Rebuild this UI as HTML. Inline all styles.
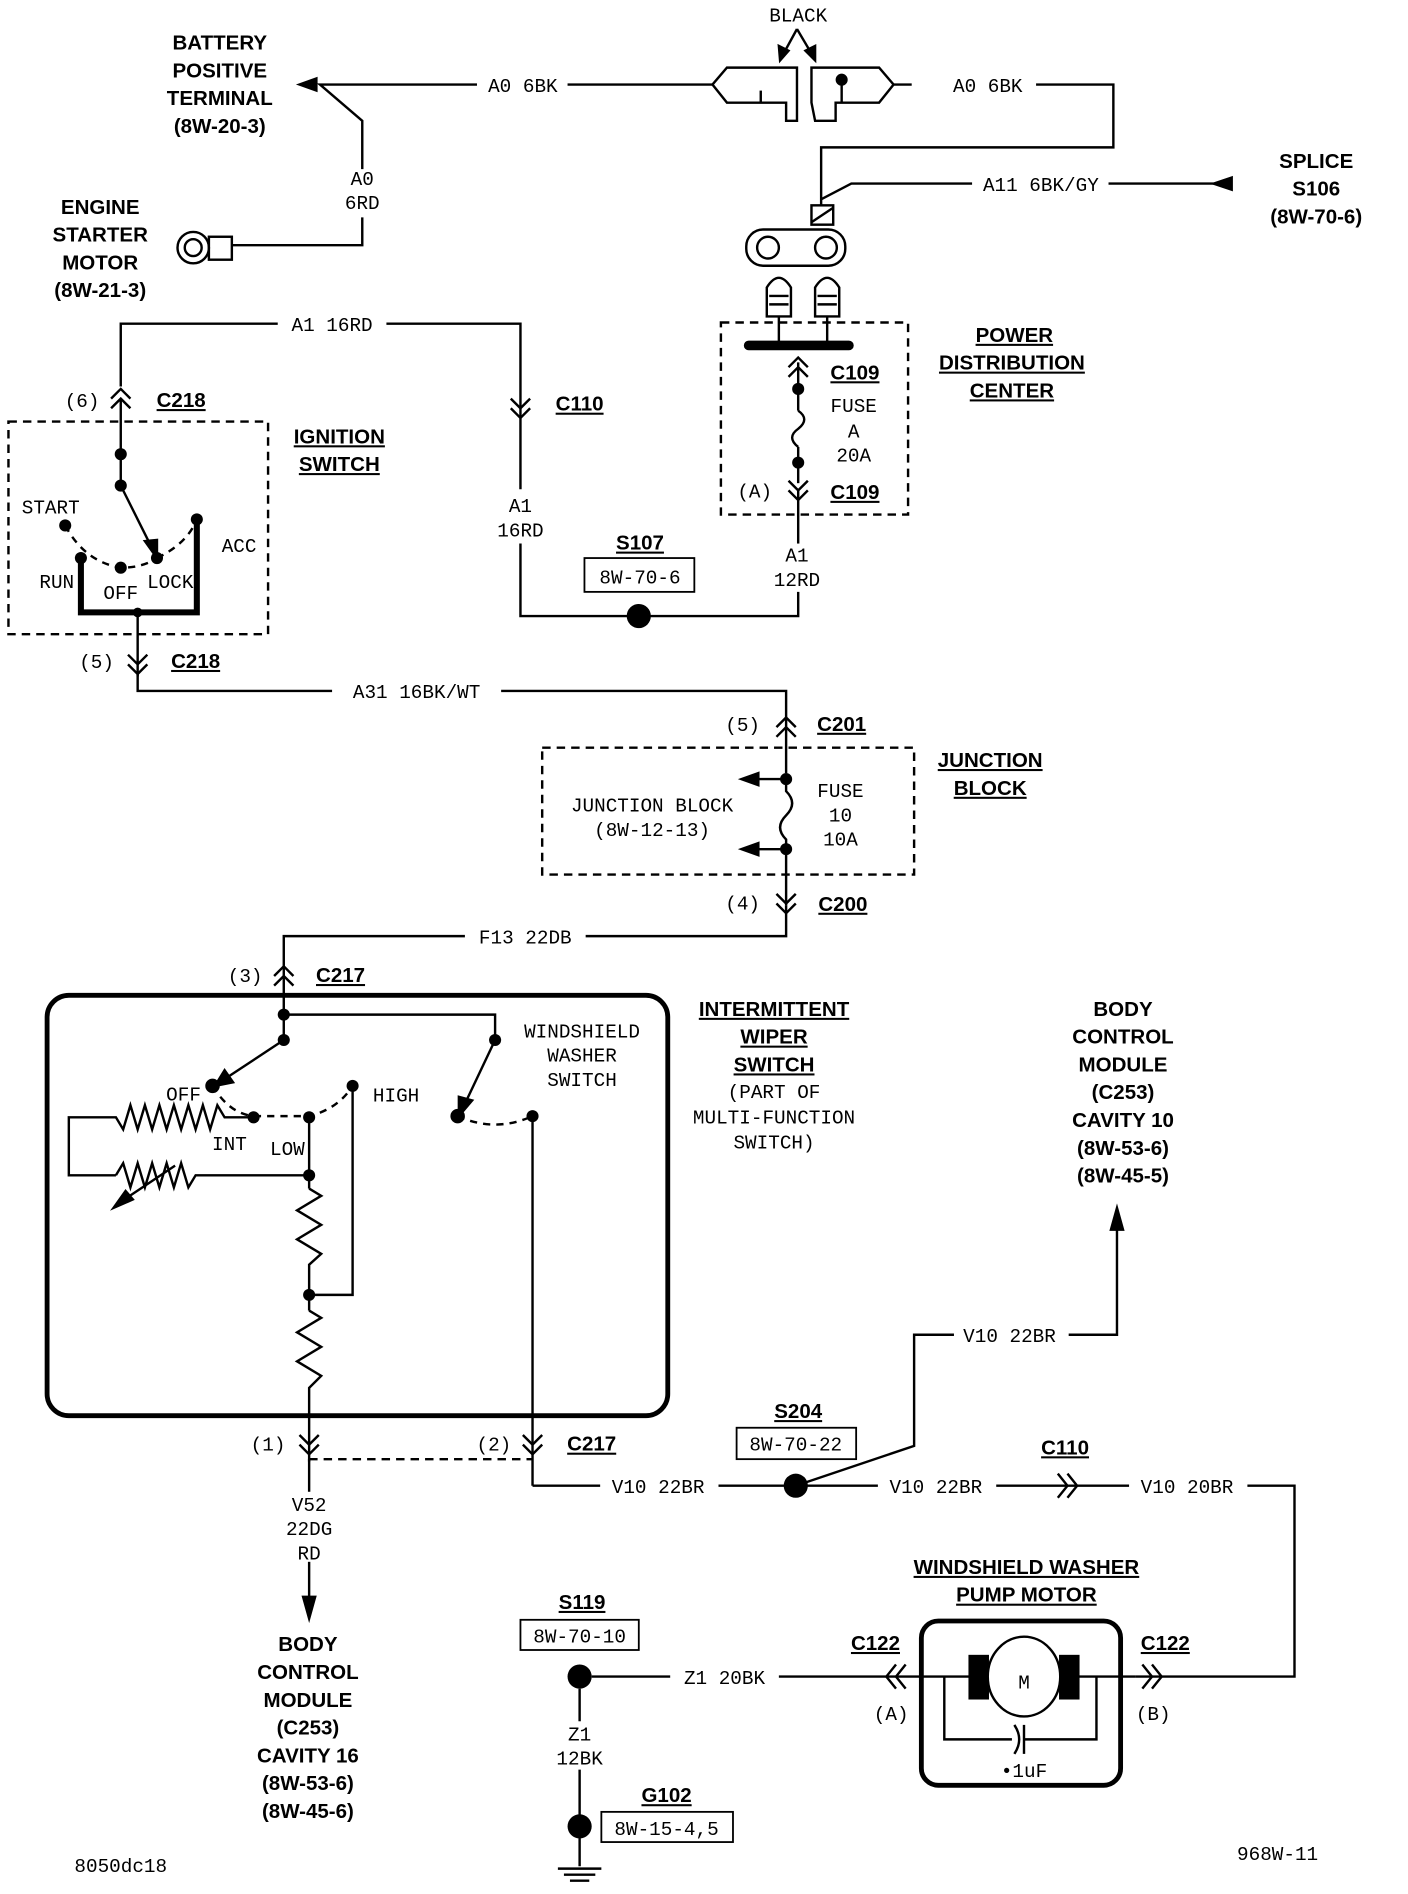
<!DOCTYPE html>
<html><head><meta charset="utf-8"><style>
html,body{margin:0;padding:0;background:#fff;}
svg{display:block;}
.t{font-family:"Liberation Mono",monospace;font-size:16px;fill:#000;}
.b{font-family:"Liberation Sans",sans-serif;font-weight:bold;font-size:17px;fill:#000;}
</style></head><body>
<svg width="1408" height="1894" viewBox="0 0 1166 1568" preserveAspectRatio="none" xmlns="http://www.w3.org/2000/svg">
<g fill="none" stroke="#000" stroke-width="2">
<polyline points="395,70 265,70 300,100 300,140"/>
<polygon points="248,70 262,65 262,75" fill="#000"/>
<polyline points="300,180 300,203 192,203"/>
<circle cx="160" cy="205" r="13"/><circle cx="160" cy="205" r="7"/>
<rect x="173" y="196" width="19" height="19"/>
<line x1="470" y1="70" x2="590" y2="70"/>
<polygon points="590,70 602,56 660,56 660,100 651,100 651,85 602,85"/>
<line x1="630" y1="85" x2="630" y2="75"/>
<polygon points="672,56 728,56 740,70 728,85 692,85 692,100 675,100 672,85"/>
<line x1="697" y1="66" x2="697" y2="85"/>
<circle cx="697" cy="66" r="4" fill="#000"/>
<line x1="660" y1="24" x2="648" y2="46"/><line x1="660" y1="24" x2="673" y2="46"/>
<polygon points="646,50 645,38 653,42" fill="#000"/><polygon points="675,50 667,42 675,38" fill="#000"/>
<polyline points="740,70 755,70"/>
<polyline points="858,70 922,70 922,122 680,122 680,170"/>
<polyline points="680,165 705,152 805,152"/>
<line x1="918" y1="152" x2="1005" y2="152"/>
<polygon points="1005,152 1020,147 1020,157" fill="#000"/>
<rect x="672" y="170" width="18" height="16"/><line x1="672" y1="184" x2="690" y2="172"/>
<rect x="618" y="190" width="82" height="30" rx="14"/>
<circle cx="636" cy="205" r="9"/><circle cx="684" cy="205" r="9"/>
<path d="M635,262 V238 Q645,222 655,238 V262 Z"/><path d="M675,262 V238 Q685,222 695,238 V262 Z"/>
<line x1="637" y1="245" x2="653" y2="245"/><line x1="637" y1="252" x2="653" y2="252"/>
<line x1="677" y1="245" x2="693" y2="245"/><line x1="677" y1="252" x2="693" y2="252"/>
<line x1="645" y1="262" x2="645" y2="285"/><line x1="685" y1="262" x2="685" y2="285"/>
<rect x="597" y="267" width="155" height="159" stroke-dasharray="7,5"/>
<line x1="620" y1="286" x2="703" y2="286" stroke-width="8" stroke-linecap="round"/>
<polyline points="653,304 661,296 669,304"/><polyline points="653,312 661,304 669,312"/>
<line x1="661" y1="300" x2="661" y2="340"/>
<path d="M661,340 q10,7 0,15 q-10,7 0,15"/>
<line x1="661" y1="370" x2="661" y2="400"/>
<polyline points="653,398 661,406 669,398"/><polyline points="653,406 661,414 669,406"/>
<polyline points="661,406 661,450"/>
<polyline points="661,490 661,510 431,510 431,450"/>
<polyline points="431,405 431,268 320,268"/>
<polyline points="230,268 100,268 100,320"/>
<polyline points="423,330 431,338 439,330"/><polyline points="423,338 431,346 439,338"/>
<rect x="484" y="462" width="91" height="28" stroke-width="1.5"/>
<polyline points="92,330 100,322 108,330"/><polyline points="92,338 100,330 108,338"/>
<line x1="100" y1="330" x2="100" y2="402"/>
<rect x="7" y="349" width="215" height="176" stroke-dasharray="7,5"/>
<line x1="100" y1="402" x2="128" y2="458"/>
<polygon points="130,462 120,448 130,447" fill="#000"/>
<polyline points="67,462 67,507 163,507 163,430" stroke-width="5"/>
<path d="M54,435 Q70,465 100,470 Q118,470 130,462" stroke-dasharray="6,5"/>
<path d="M130,462 Q155,450 163,430" stroke-dasharray="6,5"/>
<line x1="114" y1="507" x2="114" y2="560"/>
<polyline points="106,542 114,550 122,542"/><polyline points="106,550 114,558 122,550"/>
<polyline points="114,558 114,572 275,572"/>
<polyline points="415,572 651,572 651,640"/>
<polyline points="643,602 651,594 659,602"/><polyline points="643,610 651,602 659,610"/>
<rect x="449" y="619" width="308" height="105" stroke-dasharray="7,5"/>
<line x1="651" y1="645" x2="620" y2="645"/><polygon points="614,645 628,640 628,650" fill="#000"/>
<path d="M651,645 V655 q10,10 0,20 q-10,10 0,20 V750"/>
<line x1="651" y1="703" x2="620" y2="703"/><polygon points="614,703 628,698 628,708" fill="#000"/>
<polyline points="643,740 651,748 659,740"/><polyline points="643,748 651,756 659,748"/>
<polyline points="651,750 651,775 485,775"/>
<polyline points="385,775 235,775 235,845"/>
<polyline points="227,808 235,800 243,808"/><polyline points="227,816 235,808 243,816"/>
<rect x="39" y="824" width="514" height="348" rx="18" stroke-width="4"/>
<polyline points="235,840 410,840 410,861"/>
<line x1="235" y1="840" x2="235" y2="861"/>
<line x1="235" y1="861" x2="182" y2="896"/><polygon points="178,899 186,886 193,896" fill="#000"/>
<line x1="410" y1="861" x2="383" y2="918"/><polygon points="380,924 380,908 391,911" fill="#000"/>
<path d="M176,899 Q190,922 210,924 L256,924 Q280,918 292,899" stroke-dasharray="6,5"/>
<path d="M379,924 Q410,938 441,924" stroke-dasharray="6,5"/>
<polyline points="210,925 186,925 180,915 174,935 168,915 162,935 156,915 150,935 144,915 138,935 132,915 126,935 120,915 114,935 108,915 102,935 96,925 57,925 57,973 96,973"/>
<polyline points="96,973 102,963 108,983 114,963 120,983 126,963 132,983 138,963 144,983 150,963 156,983 162,973 256,973"/>
<line x1="100" y1="995" x2="145" y2="965"/><polygon points="94,1000 104,986 110,993" fill="#000"/>
<line x1="256" y1="924" x2="256" y2="984"/>
<polyline points="256,984 266,990 246,1002 266,1014 246,1026 266,1038 256,1047 256,1085"/>
<polyline points="256,1085 266,1091 246,1103 266,1115 246,1127 266,1139 256,1149 256,1210"/>
<polyline points="292,899 292,1072 256,1072"/>
<line x1="441" y1="924" x2="441" y2="1230"/>
<polyline points="248,1188 256,1196 264,1188"/><polyline points="248,1196 256,1204 264,1196"/>
<polyline points="433,1188 441,1196 449,1188"/><polyline points="433,1196 441,1204 449,1196"/>
<line x1="256" y1="1208" x2="441" y2="1208" stroke-dasharray="7,5"/>
<polyline points="256,1208 256,1235"/>
<polyline points="256,1293 256,1328"/>
<polygon points="256,1340 251,1322 261,1322" fill="#000"/>
<polyline points="441,1230 497,1230"/>
<line x1="595" y1="1230" x2="727" y2="1230"/>
<polyline points="659,1230 757,1197 757,1105 790,1105"/>
<polyline points="885,1105 925,1105 925,1015"/>
<polygon points="925,1000 920,1018 930,1018" fill="#000"/>
<rect x="610" y="1182" width="99" height="26" stroke-width="1.5"/>
<line x1="825" y1="1230" x2="935" y2="1230"/>
<polyline points="876,1220 884,1230 876,1240"/><polyline points="884,1220 892,1230 884,1240"/>
<polyline points="1033,1230 1072,1230 1072,1388 940,1388"/>
<rect x="763" y="1342" width="165" height="136" rx="14" stroke-width="4"/>
<line x1="645" y1="1388" x2="803" y2="1388"/>
<line x1="893" y1="1388" x2="940" y2="1388"/>
<polyline points="750,1378 742,1388 750,1398"/><polyline points="742,1378 734,1388 742,1398"/>
<polyline points="946,1378 954,1388 946,1398"/><polyline points="954,1378 962,1388 954,1398"/>
<rect x="803" y="1371" width="15" height="35" fill="#000"/><rect x="878" y="1371" width="15" height="35" fill="#000"/>
<ellipse cx="848" cy="1388" rx="30" ry="33" fill="#fff"/>
<polyline points="782,1388 782,1440 838,1440"/>
<path d="M840,1428 Q848,1440 840,1452"/>
<line x1="848" y1="1428" x2="848" y2="1452"/>
<polyline points="848,1440 908,1440 908,1388"/>
<line x1="490" y1="1388" x2="555" y2="1388"/>
<polyline points="480,1398 480,1425"/>
<polyline points="480,1465 480,1545"/>
<line x1="462" y1="1547" x2="498" y2="1547"/><line x1="467" y1="1552" x2="493" y2="1552"/><line x1="472" y1="1557" x2="488" y2="1557"/>
<rect x="431" y="1341" width="98" height="25" stroke-width="1.5"/>
<rect x="498" y="1500" width="109" height="25" stroke-width="1.5"/>
</g>
<g fill="#000">
<circle cx="529" cy="510" r="10"/>
<circle cx="661" cy="322" r="5"/><circle cx="661" cy="383" r="5"/>
<circle cx="100" cy="376" r="5"/><circle cx="100" cy="402" r="5"/>
<circle cx="54" cy="435" r="5"/><circle cx="67" cy="462" r="5"/><circle cx="100" cy="470" r="5"/><circle cx="130" cy="462" r="5"/><circle cx="163" cy="430" r="5"/><circle cx="114" cy="507" r="4"/>
<circle cx="651" cy="645" r="5"/><circle cx="651" cy="703" r="5"/>
<circle cx="235" cy="840" r="5"/><circle cx="235" cy="861" r="5"/><circle cx="410" cy="861" r="5"/>
<circle cx="176" cy="899" r="6"/><circle cx="292" cy="899" r="5"/><circle cx="210" cy="925" r="5"/><circle cx="256" cy="925" r="5"/>
<circle cx="379" cy="924" r="6"/><circle cx="441" cy="924" r="5"/>
<circle cx="256" cy="973" r="5"/><circle cx="256" cy="1072" r="5"/>
<circle cx="659" cy="1230" r="10"/>
<circle cx="480" cy="1388" r="10"/><circle cx="480" cy="1512" r="10"/>
</g>
<g class="b" text-anchor="middle">
<text x="182" y="41">BATTERY</text><text x="182" y="64">POSITIVE</text><text x="182" y="87">TERMINAL</text><text x="182" y="110">(8W-20-3)</text>
<text x="83" y="177">ENGINE</text><text x="83" y="200">STARTER</text><text x="83" y="223">MOTOR</text><text x="83" y="246">(8W-21-3)</text>
<text x="1090" y="139">SPLICE</text><text x="1090" y="162">S106</text><text x="1090" y="185">(8W-70-6)</text>
<text x="840" y="283" text-decoration="underline">POWER</text><text x="838" y="306" text-decoration="underline">DISTRIBUTION</text><text x="838" y="329" text-decoration="underline">CENTER</text>
<text x="708" y="314" text-decoration="underline">C109</text><text x="708" y="413" text-decoration="underline">C109</text>
<text x="281" y="367" text-decoration="underline">IGNITION</text><text x="281" y="390" text-decoration="underline">SWITCH</text>
<text x="150" y="337" text-decoration="underline">C218</text><text x="162" y="553" text-decoration="underline">C218</text>
<text x="480" y="340" text-decoration="underline">C110</text>
<text x="530" y="455" text-decoration="underline">S107</text>
<text x="697" y="605" text-decoration="underline">C201</text><text x="698" y="754" text-decoration="underline">C200</text>
<text x="820" y="635" text-decoration="underline">JUNCTION</text><text x="820" y="658" text-decoration="underline">BLOCK</text>
<text x="282" y="813" text-decoration="underline">C217</text><text x="490" y="1201" text-decoration="underline">C217</text>
<text x="641" y="841" text-decoration="underline">INTERMITTENT</text><text x="641" y="864" text-decoration="underline">WIPER</text><text x="641" y="887" text-decoration="underline">SWITCH</text>
<text x="930" y="841">BODY</text><text x="930" y="864">CONTROL</text><text x="930" y="887">MODULE</text><text x="930" y="910">(C253)</text><text x="930" y="933">CAVITY 10</text><text x="930" y="956">(8W-53-6)</text><text x="930" y="979">(8W-45-5)</text>
<text x="661" y="1174" text-decoration="underline">S204</text>
<text x="882" y="1204" text-decoration="underline">C110</text>
<text x="850" y="1303" text-decoration="underline">WINDSHIELD WASHER</text><text x="850" y="1326" text-decoration="underline">PUMP MOTOR</text>
<text x="725" y="1366" text-decoration="underline">C122</text><text x="965" y="1366" text-decoration="underline">C122</text>
<text x="482" y="1332" text-decoration="underline">S119</text><text x="552" y="1492" text-decoration="underline">G102</text>
<text x="255" y="1367">BODY</text><text x="255" y="1390">CONTROL</text><text x="255" y="1413">MODULE</text><text x="255" y="1436">(C253)</text><text x="255" y="1459">CAVITY 16</text><text x="255" y="1482">(8W-53-6)</text><text x="255" y="1505">(8W-45-6)</text>
</g>
<g class="t" text-anchor="middle">
<text x="661" y="18">BLACK</text>
<text x="433" y="76">A0 6BK</text><text x="818" y="76">A0 6BK</text>
<text x="300" y="153">A0</text><text x="300" y="173">6RD</text>
<text x="862" y="158">A11 6BK/GY</text>
<text x="275" y="274">A1 16RD</text>
<text x="707" y="341">FUSE</text><text x="707" y="362">A</text><text x="707" y="382">20A</text>
<text x="625" y="412">(A)</text>
<text x="431" y="424">A1</text><text x="431" y="444">16RD</text>
<text x="660" y="465">A1</text><text x="660" y="485">12RD</text>
<text x="530" y="483">8W-70-6</text>
<text x="68" y="337">(6)</text>
<text x="42" y="425">START</text><text x="198" y="457">ACC</text><text x="47" y="487">RUN</text><text x="100" y="496">OFF</text><text x="141" y="487">LOCK</text>
<text x="80" y="553">(5)</text>
<text x="345" y="578">A31 16BK/WT</text>
<text x="615" y="605">(5)</text>
<text x="540" y="672">JUNCTION BLOCK</text><text x="540" y="692">(8W-12-13)</text>
<text x="696" y="660">FUSE</text><text x="696" y="680">10</text><text x="696" y="700">10A</text>
<text x="615" y="753">(4)</text>
<text x="435" y="781">F13 22DB</text>
<text x="203" y="813">(3)</text>
<text x="482" y="859">WINDSHIELD</text><text x="482" y="879">WASHER</text><text x="482" y="899">SWITCH</text>
<text x="641" y="909">(PART OF</text><text x="641" y="930">MULTI-FUNCTION</text><text x="641" y="951">SWITCH)</text>
<text x="152" y="911">OFF</text><text x="328" y="912">HIGH</text><text x="190" y="952">INT</text><text x="238" y="956">LOW</text>
<text x="222" y="1201">(1)</text><text x="409" y="1201">(2)</text>
<text x="545" y="1236">V10 22BR</text><text x="775" y="1236">V10 22BR</text><text x="983" y="1236">V10 20BR</text>
<text x="836" y="1111">V10 22BR</text>
<text x="659" y="1201">8W-70-22</text>
<text x="256" y="1251">V52</text><text x="256" y="1271">22DG</text><text x="256" y="1291">RD</text>
<text x="600" y="1394">Z1 20BK</text>
<text x="480" y="1360">8W-70-10</text>
<text x="480" y="1441">Z1</text><text x="480" y="1461">12BK</text>
<text x="552" y="1519">8W-15-4,5</text>
<text x="738" y="1424">(A)</text><text x="955" y="1424">(B)</text>
<text x="848" y="1398">M</text><text x="848" y="1471">•1uF</text>
<text x="100" y="1550">8050dc18</text><text x="1058" y="1540">968W-11</text>
</g>
</svg>
</body></html>
